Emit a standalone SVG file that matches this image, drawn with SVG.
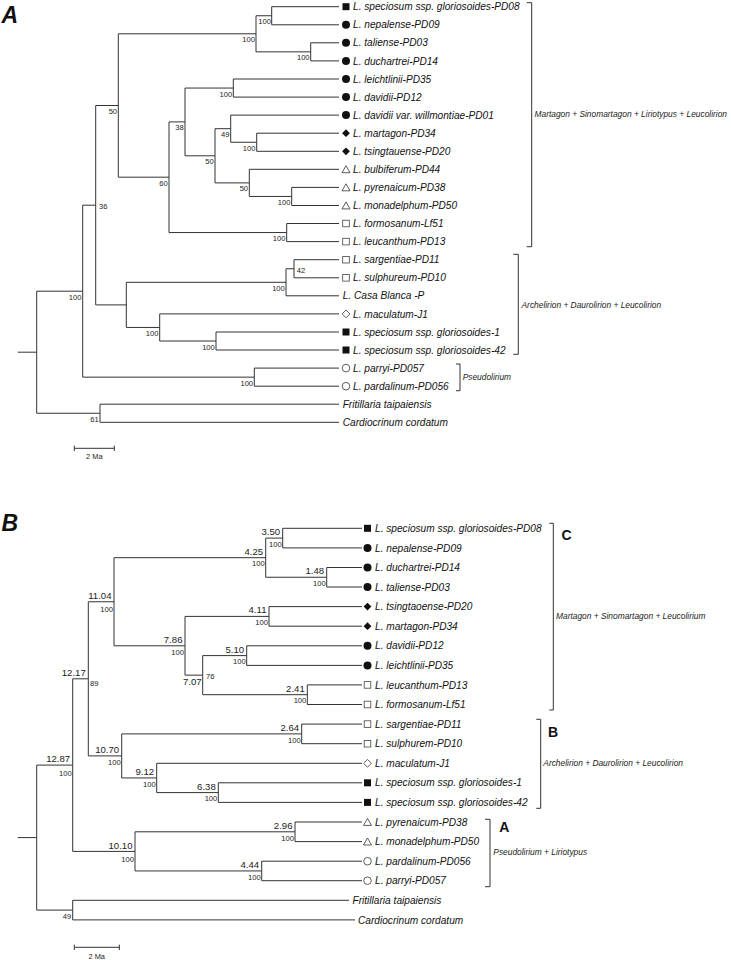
<svg xmlns="http://www.w3.org/2000/svg" width="731" height="960" viewBox="0 0 731 960">
<style>
.e{fill:none;stroke:#333;stroke-width:1}
.t{font-family:"Liberation Sans",Arial,sans-serif;font-style:italic;font-size:10.15px;fill:#111}
.s{font-family:"Liberation Sans",Arial,sans-serif;font-size:7.6px;fill:#222;text-anchor:end}
.sr{font-family:"Liberation Sans",Arial,sans-serif;font-size:7.6px;fill:#222}
.ag{font-family:"Liberation Sans",Arial,sans-serif;font-size:9.6px;fill:#222;text-anchor:end}
.cl{font-family:"Liberation Sans",Arial,sans-serif;font-style:italic;font-size:8.4px;fill:#222}
.big{font-family:"Liberation Sans",Arial,sans-serif;font-style:italic;font-weight:bold;font-size:23px;fill:#111}
.lt{font-family:"Liberation Sans",Arial,sans-serif;font-weight:bold;font-size:14px;fill:#111}
.sc{font-family:"Liberation Sans",Arial,sans-serif;font-size:7.4px;fill:#222;text-anchor:middle}
</style>
<defs>
<rect id="fsq" x="-3.5" y="-3.5" width="7" height="7" fill="#111"/>
<circle id="fci" r="4" fill="#111"/>
<path id="fdi" d="M0,-3.9 L3.9,0 L0,3.9 L-3.9,0Z" fill="#111"/>
<path id="otr" d="M0,-3.6 L4,3.4 L-4,3.4Z" fill="none" stroke="#333" stroke-width="0.8"/>
<rect id="osq" x="-3.3" y="-3.3" width="6.6" height="6.6" fill="none" stroke="#444" stroke-width="0.8"/>
<circle id="oci" r="3.8" fill="none" stroke="#333" stroke-width="0.8"/>
<path id="odi" d="M0,-3.9 L3.9,0 L0,3.9 L-3.9,0Z" fill="none" stroke="#333" stroke-width="0.8"/>
</defs>
<rect width="731" height="960" fill="#fff"/>

<!-- ===== Panel A ===== -->
<text class="big" x="1.5" y="22.7">A</text>
<g id="connectors-a" class="e">
<path d="M17.7,352.2 H36.7"/>
<path d="M82.7,291.2 H36.7 V413.25 H100"/>
<path d="M339,404.2 H100 V422.3 H339"/>
<path d="M95.7,205.2 H82.7 V377.15 H254.3"/>
<path d="M339,368.1 H254.3 V386.2 H339"/>
<path d="M118.3,105.5 H95.7 V304.9 H126.3"/>
<path d="M286,282.3 H126.3 V327.45 H159.7"/>
<path d="M294,268.75 H286 V295.8 H339"/>
<path d="M339,259.7 H294 V277.8 H339"/>
<path d="M339,313.9 H159.7 V341 H216"/>
<path d="M339,332 H216 V350 H339"/>
<path d="M256,33.8 H118.3 V177.2 H169"/>
<path d="M271.7,15.75 H256 V51.85 H310.7"/>
<path d="M339,6.7 H271.7 V24.8 H339"/>
<path d="M339,42.8 H310.7 V60.9 H339"/>
<path d="M185,121.9 H169 V232.55 H286.7"/>
<path d="M339,223.5 H286.7 V241.6 H339"/>
<path d="M233.3,88.05 H185 V155.8 H215"/>
<path d="M339,79 H233.3 V97.1 H339"/>
<path d="M230.7,128.7 H215 V182.9 H249.3"/>
<path d="M339,115.1 H230.7 V142.25 H256.7"/>
<path d="M339,133.2 H256.7 V151.3 H339"/>
<path d="M339,169.3 H249.3 V196.45 H291.7"/>
<path d="M339,187.4 H291.7 V205.5 H339"/>
<!-- clade brackets -->
<path d="M526.7,2.7 H531.7 V246.7 H526.7"/>
<path d="M513.3,254.3 H518.3 V354.3 H513.3"/>
<path d="M456,364 H460 V390.7 H456"/>
<!-- scale bar -->
<path d="M74.3,448.3 H114.3 M74.3,445.6 V451 M114.3,445.6 V451"/>
</g>
<g id="a-support">
<text class="s" x="270.9" y="24.2">100</text>
<text class="s" x="254.9" y="42.3">100</text>
<text class="s" x="309.6" y="60.4">100</text>
<text class="s" x="232.2" y="96.6">100</text>
<text class="s" x="183.8" y="130.4">38</text>
<text class="s" x="229.5" y="137.2">49</text>
<text class="s" x="255.5" y="150.8">100</text>
<text class="s" x="213.8" y="164.3">50</text>
<text class="s" x="117.1" y="114">50</text>
<text class="s" x="167.8" y="185.7">60</text>
<text class="s" x="248.1" y="191.4">50</text>
<text class="s" x="290.5" y="205">100</text>
<text class="sr" x="99" y="208.7">36</text>
<text class="s" x="285.5" y="241.1">100</text>
<text class="sr" x="296.7" y="273.4">42</text>
<text class="s" x="284.8" y="290.8">100</text>
<text class="s" x="81.5" y="299.7">100</text>
<text class="s" x="158.5" y="336">100</text>
<text class="s" x="214.8" y="349.5">100</text>
<text class="s" x="253.1" y="385.7">100</text>
<text class="s" x="98.8" y="421.8">61</text>
</g>
<g id="a-tip01"><use href="#fsq" x="346" y="6.7"/><text class="t" x="353" y="10.3">L. speciosum ssp. gloriosoides-PD08</text></g>
<g id="a-tip02"><use href="#fci" x="346" y="24.8"/><text class="t" x="353" y="28.4">L. nepalense-PD09</text></g>
<g id="a-tip03"><use href="#fci" x="346" y="42.8"/><text class="t" x="353" y="46.4">L. taliense-PD03</text></g>
<g id="a-tip04"><use href="#fci" x="346" y="60.9"/><text class="t" x="353" y="64.5">L. duchartrei-PD14</text></g>
<g id="a-tip05"><use href="#fci" x="346" y="79"/><text class="t" x="353" y="82.6">L. leichtlinii-PD35</text></g>
<g id="a-tip06"><use href="#fci" x="346" y="97.1"/><text class="t" x="353" y="100.7">L. davidii-PD12</text></g>
<g id="a-tip07"><use href="#fci" x="346" y="115.1"/><text class="t" x="353" y="118.7">L. davidii var. willmontiae-PD01</text></g>
<g id="a-tip08"><use href="#fdi" x="346" y="133.2"/><text class="t" x="353" y="136.8">L. martagon-PD34</text></g>
<g id="a-tip09"><use href="#fdi" x="346" y="151.3"/><text class="t" x="353" y="154.9">L. tsingtauense-PD20</text></g>
<g id="a-tip10"><use href="#otr" x="346" y="169.3"/><text class="t" x="353" y="172.9">L. bulbiferum-PD44</text></g>
<g id="a-tip11"><use href="#otr" x="346" y="187.4"/><text class="t" x="353" y="191">L. pyrenaicum-PD38</text></g>
<g id="a-tip12"><use href="#otr" x="346" y="205.5"/><text class="t" x="353" y="209.1">L. monadelphum-PD50</text></g>
<g id="a-tip13"><use href="#osq" x="346" y="223.5"/><text class="t" x="353" y="227.1">L. formosanum-Lf51</text></g>
<g id="a-tip14"><use href="#osq" x="346" y="241.6"/><text class="t" x="353" y="245.2">L. leucanthum-PD13</text></g>
<g id="a-tip15"><use href="#osq" x="346" y="259.7"/><text class="t" x="353" y="263.3">L. sargentiae-PD11</text></g>
<g id="a-tip16"><use href="#osq" x="346" y="277.8"/><text class="t" x="353" y="281.4">L. sulphureum-PD10</text></g>
<g id="a-tip17"><text class="t" x="342.7" y="299.4">L. Casa Blanca -P</text></g>
<g id="a-tip18"><use href="#odi" x="346" y="313.9"/><text class="t" x="353" y="317.5">L. maculatum-J1</text></g>
<g id="a-tip19"><use href="#fsq" x="346" y="332"/><text class="t" x="353" y="335.6">L. speciosum ssp. gloriosoides-1</text></g>
<g id="a-tip20"><use href="#fsq" x="346" y="350"/><text class="t" x="353" y="353.6">L. speciosum ssp. gloriosoides-42</text></g>
<g id="a-tip21"><use href="#oci" x="346" y="368.1"/><text class="t" x="353" y="371.7">L. parryi-PD057</text></g>
<g id="a-tip22"><use href="#oci" x="346" y="386.2"/><text class="t" x="353" y="389.8">L. pardalinum-PD056</text></g>
<g id="a-tip23"><text class="t" x="342.7" y="407.8">Fritillaria taipaiensis</text></g>
<g id="a-tip24"><text class="t" x="342.7" y="425.9">Cardiocrinum cordatum</text></g>
<g id="a-clade1"><text class="cl" x="534.5" y="117.3">Martagon + Sinomartagon + Liriotypus + Leucolirion</text></g>
<g id="a-clade2"><text class="cl" x="521.5" y="308">Archelirion + Daurolirion + Leucolirion</text></g>
<g id="a-clade3"><text class="cl" x="462.7" y="379.7">Pseudolirium</text></g>
<g id="a-scale"><text class="sc" x="94.3" y="459.2">2 Ma</text></g>

<!-- ===== Panel B ===== -->
<text class="big" x="1.5" y="531">B</text>
<g id="connectors-b" class="e">
<path d="M17.7,837.6 H36.7"/>
<path d="M72.7,765.1 H36.7 V910.1 H72.7"/>
<path d="M349,900.3 H72.7 V919.9 H355"/>
<path d="M88.3,678.8 H72.7 V851.4 H135"/>
<path d="M114,601.75 H88.3 V755.9 H121.7"/>
<path d="M265.7,557.7 H114 V645.8 H185"/>
<path d="M282.7,538.1 H265.7 V577.25 H326.7"/>
<path d="M362,528.3 H282.7 V547.9 H362"/>
<path d="M362,567.5 H326.7 V587 H362"/>
<path d="M269,616.4 H185 V675.15 H202.7"/>
<path d="M362,606.6 H269 V626.2 H362"/>
<path d="M246.7,655.6 H202.7 V694.7 H307.3"/>
<path d="M362,645.8 H246.7 V665.4 H362"/>
<path d="M362,684.9 H307.3 V704.5 H362"/>
<path d="M301.7,733.9 H121.7 V777.95 H156.7"/>
<path d="M362,724.1 H301.7 V743.7 H362"/>
<path d="M362,763.3 H156.7 V792.6 H218.3"/>
<path d="M362,782.8 H218.3 V802.4 H362"/>
<path d="M295,831.8 H135 V870.95 H261.7"/>
<path d="M362,822 H295 V841.6 H362"/>
<path d="M362,861.2 H261.7 V880.7 H362"/>
<!-- clade brackets -->
<path d="M549.3,523.3 H553.3 V710 H549.3"/>
<path d="M536.3,719.3 H540.7 V808.3 H536.3"/>
<path d="M485,819.3 H490 V886.7 H485"/>
<!-- scale bar -->
<path d="M74.3,947.3 H119.3 M74.3,944.6 V950 M119.3,944.6 V950"/>
</g>
<g id="b-nodes">
<text class="ag" x="280.2" y="535.1">3.50</text><text class="s" x="281.7" y="546.8">100</text>
<text class="ag" x="263.2" y="554.7">4.25</text><text class="s" x="264.7" y="566.4">100</text>
<text class="ag" x="324.2" y="574.3">1.48</text><text class="s" x="325.7" y="586">100</text>
<text class="ag" x="266.5" y="613.4">4.11</text><text class="s" x="268" y="625.1">100</text>
<text class="ag" x="182.5" y="642.8">7.86</text><text class="s" x="184" y="654.5">100</text>
<text class="ag" x="244.2" y="652.6">5.10</text><text class="s" x="245.7" y="664.3">100</text>
<text class="ag" x="201.7" y="685.1">7.07</text><text class="sr" x="206" y="678.7">76</text>
<text class="ag" x="304.8" y="691.7">2.41</text><text class="s" x="306.3" y="703.4">100</text>
<text class="ag" x="111.5" y="598.7">11.04</text><text class="s" x="113" y="611.5">100</text>
<text class="ag" x="85.8" y="675.9">12.17</text><text class="sr" x="90" y="686">89</text>
<text class="ag" x="299.2" y="730.9">2.64</text><text class="s" x="300.7" y="742.6">100</text>
<text class="ag" x="119.2" y="752.9">10.70</text><text class="s" x="120.7" y="764.9">100</text>
<text class="ag" x="154.2" y="775">9.12</text><text class="s" x="155.7" y="786.9">100</text>
<text class="ag" x="215.8" y="789.6">6.38</text><text class="s" x="217.3" y="801.3">100</text>
<text class="ag" x="132.5" y="848.8">10.10</text><text class="s" x="134" y="861.5">100</text>
<text class="ag" x="292.5" y="828.8">2.96</text><text class="s" x="294" y="840.5">100</text>
<text class="ag" x="259.2" y="868">4.44</text><text class="s" x="260.7" y="879.7">100</text>
<text class="ag" x="70.2" y="762.1">12.87</text><text class="s" x="71.7" y="775.5">100</text>
<text class="s" x="71.2" y="919.2">49</text>
</g>
<g id="b-tip01"><use href="#fsq" x="367.5" y="528.3"/><text class="t" x="375" y="531.9">L. speciosum ssp. gloriosoides-PD08</text></g>
<g id="b-tip02"><use href="#fci" x="367.5" y="547.9"/><text class="t" x="375" y="551.5">L. nepalense-PD09</text></g>
<g id="b-tip03"><use href="#fci" x="367.5" y="567.5"/><text class="t" x="375" y="571.1">L. duchartrei-PD14</text></g>
<g id="b-tip04"><use href="#fci" x="367.5" y="587"/><text class="t" x="375" y="590.6">L. taliense-PD03</text></g>
<g id="b-tip05"><use href="#fdi" x="367.5" y="606.6"/><text class="t" x="375" y="610.2">L. tsingtaoense-PD20</text></g>
<g id="b-tip06"><use href="#fdi" x="367.5" y="626.2"/><text class="t" x="375" y="629.8">L. martagon-PD34</text></g>
<g id="b-tip07"><use href="#fci" x="367.5" y="645.8"/><text class="t" x="375" y="649.4">L. davidii-PD12</text></g>
<g id="b-tip08"><use href="#fci" x="367.5" y="665.4"/><text class="t" x="375" y="669">L. leichtlinii-PD35</text></g>
<g id="b-tip09"><use href="#osq" x="367.5" y="684.9"/><text class="t" x="375" y="688.5">L. leucanthum-PD13</text></g>
<g id="b-tip10"><use href="#osq" x="367.5" y="704.5"/><text class="t" x="375" y="708.1">L. formosanum-Lf51</text></g>
<g id="b-tip11"><use href="#osq" x="367.5" y="724.1"/><text class="t" x="375" y="727.7">L. sargentiae-PD11</text></g>
<g id="b-tip12"><use href="#osq" x="367.5" y="743.7"/><text class="t" x="375" y="747.3">L. sulphurem-PD10</text></g>
<g id="b-tip13"><use href="#odi" x="367.5" y="763.3"/><text class="t" x="375" y="766.9">L. maculatum-J1</text></g>
<g id="b-tip14"><use href="#fsq" x="367.5" y="782.8"/><text class="t" x="375" y="786.4">L. speciosum ssp. gloriosoides-1</text></g>
<g id="b-tip15"><use href="#fsq" x="367.5" y="802.4"/><text class="t" x="375" y="806">L. speciosum ssp. gloriosoides-42</text></g>
<g id="b-tip16"><use href="#otr" x="367.5" y="822"/><text class="t" x="375" y="825.6">L. pyrenaicum-PD38</text></g>
<g id="b-tip17"><use href="#otr" x="367.5" y="841.6"/><text class="t" x="375" y="845.2">L. monadelphum-PD50</text></g>
<g id="b-tip18"><use href="#oci" x="367.5" y="861.2"/><text class="t" x="375" y="864.8">L. pardalinum-PD056</text></g>
<g id="b-tip19"><use href="#oci" x="367.5" y="880.7"/><text class="t" x="375" y="884.3">L. parryi-PD057</text></g>
<g id="b-tip20"><text class="t" x="352.5" y="903.9">Fritillaria taipaiensis</text></g>
<g id="b-tip21"><text class="t" x="358" y="923.5">Cardiocrinum cordatum</text></g>
<g id="b-cladeC"><text class="lt" x="561.5" y="540">C</text><text class="cl" x="556" y="619">Martagon + Sinomartagon + Leucolirium</text></g>
<g id="b-cladeB"><text class="lt" x="548" y="736.7">B</text><text class="cl" x="543.3" y="766.3">Archelirion + Daurolirion + Leucolirion</text></g>
<g id="b-cladeA"><text class="lt" x="499.3" y="831.7">A</text><text class="cl" x="493.3" y="855.3">Pseudolirium + Liriotypus</text></g>
<g id="b-scale"><text class="sc" x="96.7" y="958.6">2 Ma</text></g>
</svg>
